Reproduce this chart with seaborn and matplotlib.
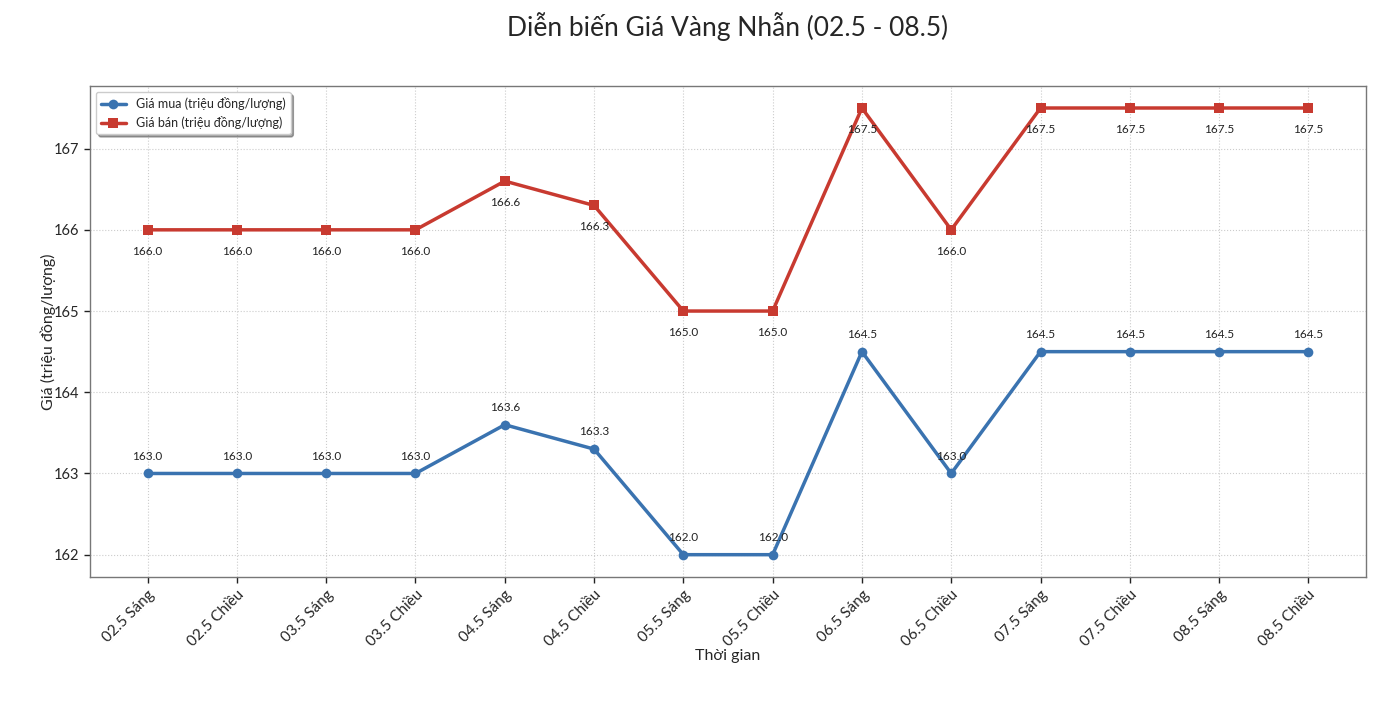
import pandas as pd
import matplotlib.pyplot as plt
import seaborn as sns

# Data
labels = ['02.5 Sáng', '02.5 Chiều', '03.5 Sáng', '03.5 Chiều', '04.5 Sáng', '04.5 Chiều',
          '05.5 Sáng', '05.5 Chiều', '06.5 Sáng', '06.5 Chiều', '07.5 Sáng', '07.5 Chiều',
          '08.5 Sáng', '08.5 Chiều']
gia_mua = [163.0, 163.0, 163.0, 163.0, 163.6, 163.3, 162.0, 162.0, 164.5, 163.0, 164.5, 164.5, 164.5, 164.5]
gia_ban = [166.0, 166.0, 166.0, 166.0, 166.6, 166.3, 165.0, 165.0, 167.5, 166.0, 167.5, 167.5, 167.5, 167.5]

df = pd.DataFrame({'Thời gian': labels, 'mua': gia_mua, 'ban': gia_ban})

sns.set_style('white')
plt.rcParams['font.family'] = ['Lato', 'DejaVu Sans']

fig, ax = plt.subplots(figsize=(14, 7.08), dpi=100)
fig.subplots_adjust(left=0.064, right=0.976, top=0.879, bottom=0.185)

sns.lineplot(data=df, x='Thời gian', y='mua', marker='o', markersize=7, linewidth=2.5,
             color='#3a73b0', markeredgewidth=0, label='Giá mua (triệu đồng/lượng)', sort=False, ax=ax)
sns.lineplot(data=df, x='Thời gian', y='ban', marker='s', markersize=7, linewidth=2.5,
             color='#c83a30', markeredgewidth=0, label='Giá bán (triệu đồng/lượng)', sort=False, ax=ax)

# value labels
for i, (m, b) in enumerate(zip(gia_mua, gia_ban)):
    ax.annotate(f'{m:.1f}', (i, m), xytext=(0, 10), textcoords='offset points',
                ha='center', fontsize=8.5, color='#222222')
    ax.annotate(f'{b:.1f}', (i, b), xytext=(0, -18), textcoords='offset points',
                ha='center', fontsize=8.5, color='#222222')

ax.set_title('Diễn biến Giá Vàng Nhẫn (02.5 - 08.5)', fontsize=19, pad=36)
ax.set_xlabel('Thời gian', fontsize=11.5, labelpad=0)
ax.set_ylabel('Giá (triệu đồng/lượng)', fontsize=11.5, labelpad=-2)
ax.set_yticks([162, 163, 164, 165, 166, 167])
ax.tick_params(axis='both', length=4, width=1, color='#222222', labelsize=10.5, bottom=True, left=True)
ax.tick_params(axis='x', labelsize=11)
plt.setp(ax.get_xticklabels(), rotation=45, ha='right', rotation_mode='anchor')
ax.grid(True, linestyle=':', color='#cccccc', linewidth=0.8)
for s in ax.spines.values():
    s.set_color('#777777')
    s.set_linewidth(1)

leg = ax.legend(loc='upper left', fontsize=9, shadow=True, frameon=True, fancybox=True)
leg.get_frame().set_edgecolor('#cccccc')

fig.savefig('out.png', dpi=100)
